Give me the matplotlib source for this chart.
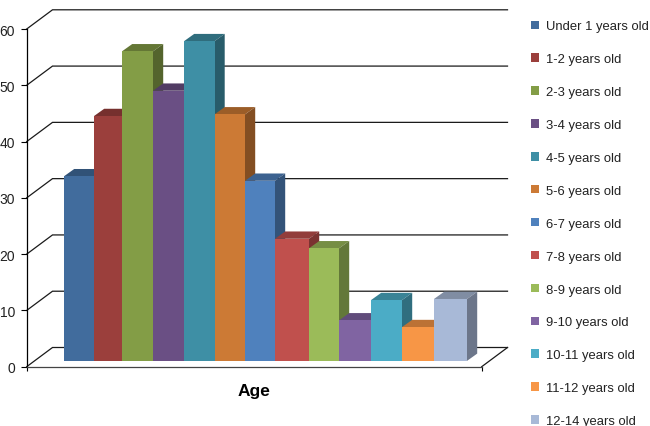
import matplotlib
matplotlib.use('Agg')
import numpy as np
from matplotlib import pyplot as plt
from matplotlib.patches import Patch, Polygon
from matplotlib.colors import to_rgb

plt.rcParams['font.family'] = ['Liberation Sans', 'DejaVu Sans']

age_groups = ['Under 1 years old', '1-2 years old', '2-3 years old', '3-4 years old',
              '4-5 years old', '5-6 years old', '6-7 years old', '7-8 years old',
              '8-9 years old', '9-10 years old', '10-11 years old', '11-12 years old',
              '12-14 years old']
values = [32.8, 43.5, 55.0, 48.0, 56.8, 43.8, 32.0, 21.7, 20.0, 7.2, 10.8, 6.0, 11.0]
y_ticks = [0, 10, 20, 30, 40, 50, 60]

colors = ['#416C9D', '#9B3F3C', '#839D46', '#6A4F84', '#3E8FA5', '#CC7A35', '#4F81BD',
          '#C0504D', '#9BBB59', '#8064A2', '#4BACC6', '#F79646', '#A8B9D7']
# the bars in the picture are not quite even, widths in pixels
bar_widths = [30, 28, 31, 31, 30.5, 30.5, 30, 34, 30, 32, 31, 32, 33]

W, H = 650, 427
# pixel layout of the fake 3d box
left, right, top, bottom = 26.7, 481.7, 30, 367.7
first_edge = 64
px_y = (bottom - top) / 60.0     # one y unit


def shade(c, f):
    return tuple(v * f for v in to_rgb(c))


fig = plt.figure(figsize=(W / 100, H / 100), dpi=100)
ax = fig.add_axes([left / W, 1 - bottom / H, (right - left) / W, (bottom - top) / H])
# x axis runs in pixels from the left edge of the first bar
ax.set_xlim(left - first_edge, right - first_edge)
ax.set_ylim(0, 60)
x0, x1 = ax.get_xlim()

# depths: x in pixels, y in value units
wall_dx, wall_dy = 25.8, 19.2 / px_y
bar_dx, bar_dy = 10.2, 7.3 / px_y
base = 5.8 / px_y

# back wall and its grid
for v in y_ticks:
    xs = [x0, x0 + wall_dx, x1 + wall_dx]
    ys = [v, v + wall_dy, v + wall_dy]
    ax.plot(xs, ys, color='#1a1a1a', lw=0.9, clip_on=False, zorder=1, solid_joinstyle='miter')
# right edge of the floor
ax.plot([x1, x1 + wall_dx], [0, wall_dy], color='#1a1a1a', lw=0.9, clip_on=False, zorder=1)

# bars go left to right so each front covers the side of the one before
edges = np.concatenate([[0], np.cumsum(bar_widths)])
for i, (v, c) in enumerate(zip(values, colors)):
    z = 3 + i
    l, r, t = edges[i], edges[i + 1], base + v
    ax.add_patch(Polygon([(l, t), (l + bar_dx, t + bar_dy), (r + bar_dx, t + bar_dy), (r, t)],
                         fc=shade(c, 0.76), ec='none', clip_on=False, zorder=z))
    ax.add_patch(Polygon([(r, base), (r + bar_dx, base + bar_dy), (r + bar_dx, t + bar_dy), (r, t)],
                         fc=shade(c, 0.64), ec='none', clip_on=False, zorder=z))
    ax.bar(l, v, width=r - l, align='edge', bottom=base, color=c, linewidth=0,
           clip_on=False, zorder=z + 0.5)

for s in ['top', 'right']:
    ax.spines[s].set_visible(False)
ax.spines['left'].set_linewidth(0.9)
ax.spines['bottom'].set_linewidth(0.9)
ax.spines['bottom'].set_color('#444444')

ax.set_yticks(y_ticks)
ax.set_xticks([x0, x1])
ax.set_xticklabels([])
ax.tick_params(axis='y', length=4.3, width=0.8, pad=4, labelsize=10, labelcolor='#222222')
ax.tick_params(axis='x', length=2.9, width=0.8)
ax.set_xlabel('Age', fontsize=12.5, fontweight='bold', labelpad=5.4)

handles = [Patch(fc=c, ec='none') for c in colors]
fig.legend(handles, age_groups, loc='upper left', bbox_to_anchor=(527 / W, 1 - 17.5 / H),
           frameon=False, fontsize=9.4, labelcolor='#222222', handlelength=0.62, handleheight=0.62,
           handletextpad=0.54, labelspacing=1.6, borderaxespad=0, borderpad=0.3)

fig.savefig('out.png', dpi=100)
